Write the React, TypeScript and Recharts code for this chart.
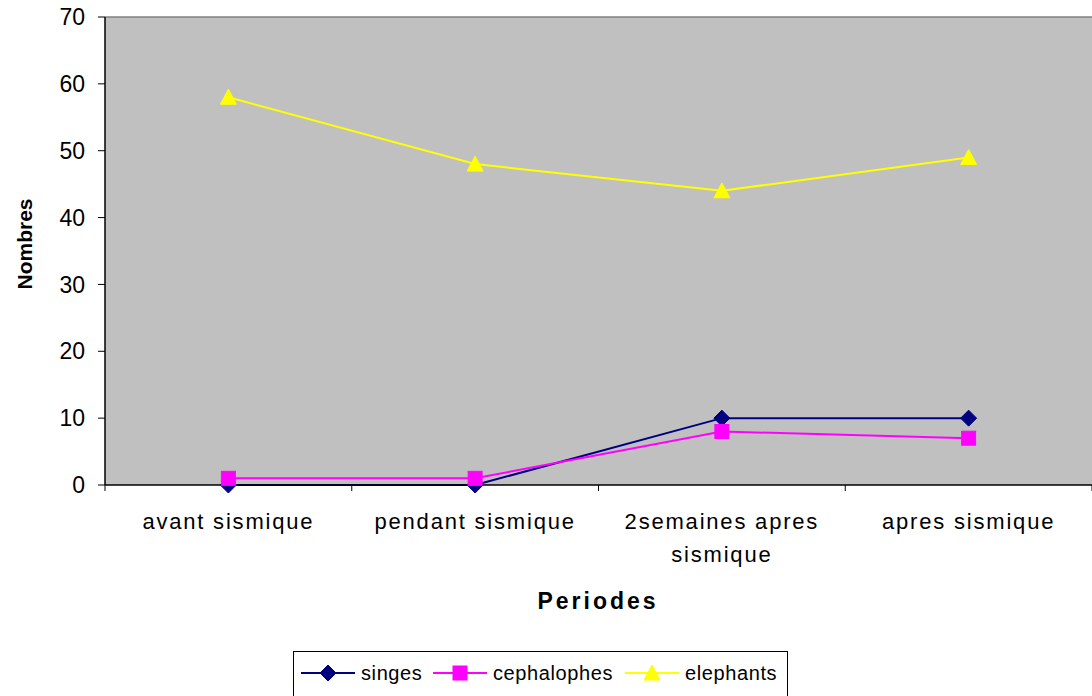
import React from 'react';
import { LineChart, Line, XAxis, YAxis, CartesianGrid, ReferenceLine, Legend, Label } from 'recharts';

const categories = ['avant sismique', 'pendant sismique', '2semaines apres sismique', 'apres sismique'];
const categoryLines = [['avant sismique'], ['pendant sismique'], ['2semaines apres', 'sismique'], ['apres sismique']];
const singes = [0, 0, 10, 10];
const cephalophes = [1, 1, 8, 7];
const elephants = [58, 48, 44, 49];
const yTicks = [0, 10, 20, 30, 40, 50, 60, 70];

const seriesInfo = [
  { key: 'singes', name: 'singes', color: '#000080', shape: 'diamond' },
  { key: 'cephalophes', name: 'cephalophes', color: '#FF00FF', shape: 'square' },
  { key: 'elephants', name: 'elephants', color: '#FFFF00', shape: 'triangle' },
];

const data = categories.map((c, i) => ({
  pos: i + 0.5,
  name: c,
  singes: singes[i],
  cephalophes: cephalophes[i],
  elephants: elephants[i],
}));

const xTicks: number[] = [];
for (let i = 0; i <= categories.length * 2; i++) xTicks.push(i / 2);

const FONT = '"Liberation Sans", Arial, sans-serif';

function Marker({ shape, cx, cy, color }: any) {
  if (cx == null || cy == null) return null;
  if (shape === 'diamond') {
    const r = 8;
    return <polygon points={`${cx},${cy - r} ${cx + r},${cy} ${cx},${cy + r} ${cx - r},${cy}`} fill={color} stroke={color} />;
  }
  if (shape === 'square') {
    const r = 7;
    return <rect x={cx - r} y={cy - r} width={2 * r} height={2 * r} fill={color} stroke={color} />;
  }
  const r = 8;
  return <polygon points={`${cx},${cy - r} ${cx + r},${cy + r - 1} ${cx - r},${cy + r - 1}`} fill={color} stroke={color} />;
}

function XTick(props: any) {
  const { x, y, payload } = props;
  const v = payload.value as number;
  if (Math.abs(v - Math.round(v)) < 1e-6) {
    return <line x1={x} y1={y - 6} x2={x} y2={y} stroke="#000" strokeWidth={1} />;
  }
  const idx = Math.floor(v);
  const lines = categoryLines[idx] || [];
  return (
    <text x={x} y={y} textAnchor="middle" fontFamily={FONT} fontSize={22} letterSpacing={1.8} fill="#000">
      {lines.map((l, i) => (
        <tspan key={i} x={x} dy={i === 0 ? 38 : 33}>{l}</tspan>
      ))}
    </text>
  );
}

function YTitle(props: any) {
  const cx = 24;
  const cy = 244;
  return (
    <text x={cx} y={cy} transform={`rotate(-90, ${cx}, ${cy})`} textAnchor="middle" dominantBaseline="central" fontFamily={FONT} fontSize={21} fontWeight="bold" fill="#000">
      Nombres
    </text>
  );
}

function XTitle(props: any) {
  return (
    <text x={598} y={609} textAnchor="middle" fontFamily={FONT} fontSize={23} fontWeight="bold" letterSpacing={3} fill="#000">
      Periodes
    </text>
  );
}

function LegendContent() {
  return (
    <div style={{ position: 'absolute', left: 293, top: 651, width: 495, height: 50, border: '1px solid #000', boxSizing: 'border-box', background: '#fff' }}>
      <svg width={495} height={50}>
        {seriesInfo.map((s, i) => {
          const starts = [7, 139, 331];
          const x0 = starts[i];
          return (
            <g key={s.key}>
              <line x1={x0} y1={21} x2={x0 + 54} y2={21} stroke={s.color} strokeWidth={2} />
              <Marker shape={s.shape} cx={x0 + 27} cy={21} color={s.color} />
              <text x={x0 + 60} y={28} fontFamily={FONT} fontSize={20} letterSpacing={0.6} fill="#000">{s.name}</text>
            </g>
          );
        })}
      </svg>
    </div>
  );
}

export default function App() {
  return (
    <div style={{ position: 'absolute', left: 0, top: 0, width: 1092, height: 696, background: '#fff' }}>
      <LineChart width={1092} height={696} data={data} margin={{ top: 17, right: 0, left: 45, bottom: 0 }}>
        <CartesianGrid horizontal={false} vertical={false} fill="#C0C0C0" />
        <ReferenceLine y={70} stroke="#808080" strokeWidth={1.5} />
        <XAxis
          dataKey="pos"
          type="number"
          domain={[0, 4]}
          ticks={xTicks}
          interval={0}
          tickLine={false}
          tickSize={6}
          tickMargin={0}
          height={211}
          axisLine={{ stroke: '#000', strokeWidth: 1.5 }}
          tick={<XTick />}
        >
          <Label content={<XTitle />} />
        </XAxis>
        <YAxis
          type="number"
          domain={[0, 70]}
          ticks={yTicks}
          interval={0}
          width={60}
          tickSize={7}
          tickMargin={13}
          axisLine={{ stroke: '#000', strokeWidth: 1.5 }}
          tickLine={{ stroke: '#000' }}
          tick={{ fontFamily: FONT, fontSize: 23, fill: '#000' }}
        >
          <Label content={<YTitle />} />
        </YAxis>
        {seriesInfo.map((s) => (
          <Line
            key={s.key}
            dataKey={s.key}
            name={s.name}
            stroke={s.color}
            strokeWidth={2}
            isAnimationActive={false}
            dot={(p: any) => <Marker key={`${s.key}-${p.index}`} shape={s.shape} cx={p.cx} cy={p.cy} color={s.color} />}
            activeDot={false}
          />
        ))}
        <Legend content={<LegendContent />} wrapperStyle={{ position: 'absolute', left: 0, top: 0, width: 0, height: 0 }} />
      </LineChart>
    </div>
  );
}
